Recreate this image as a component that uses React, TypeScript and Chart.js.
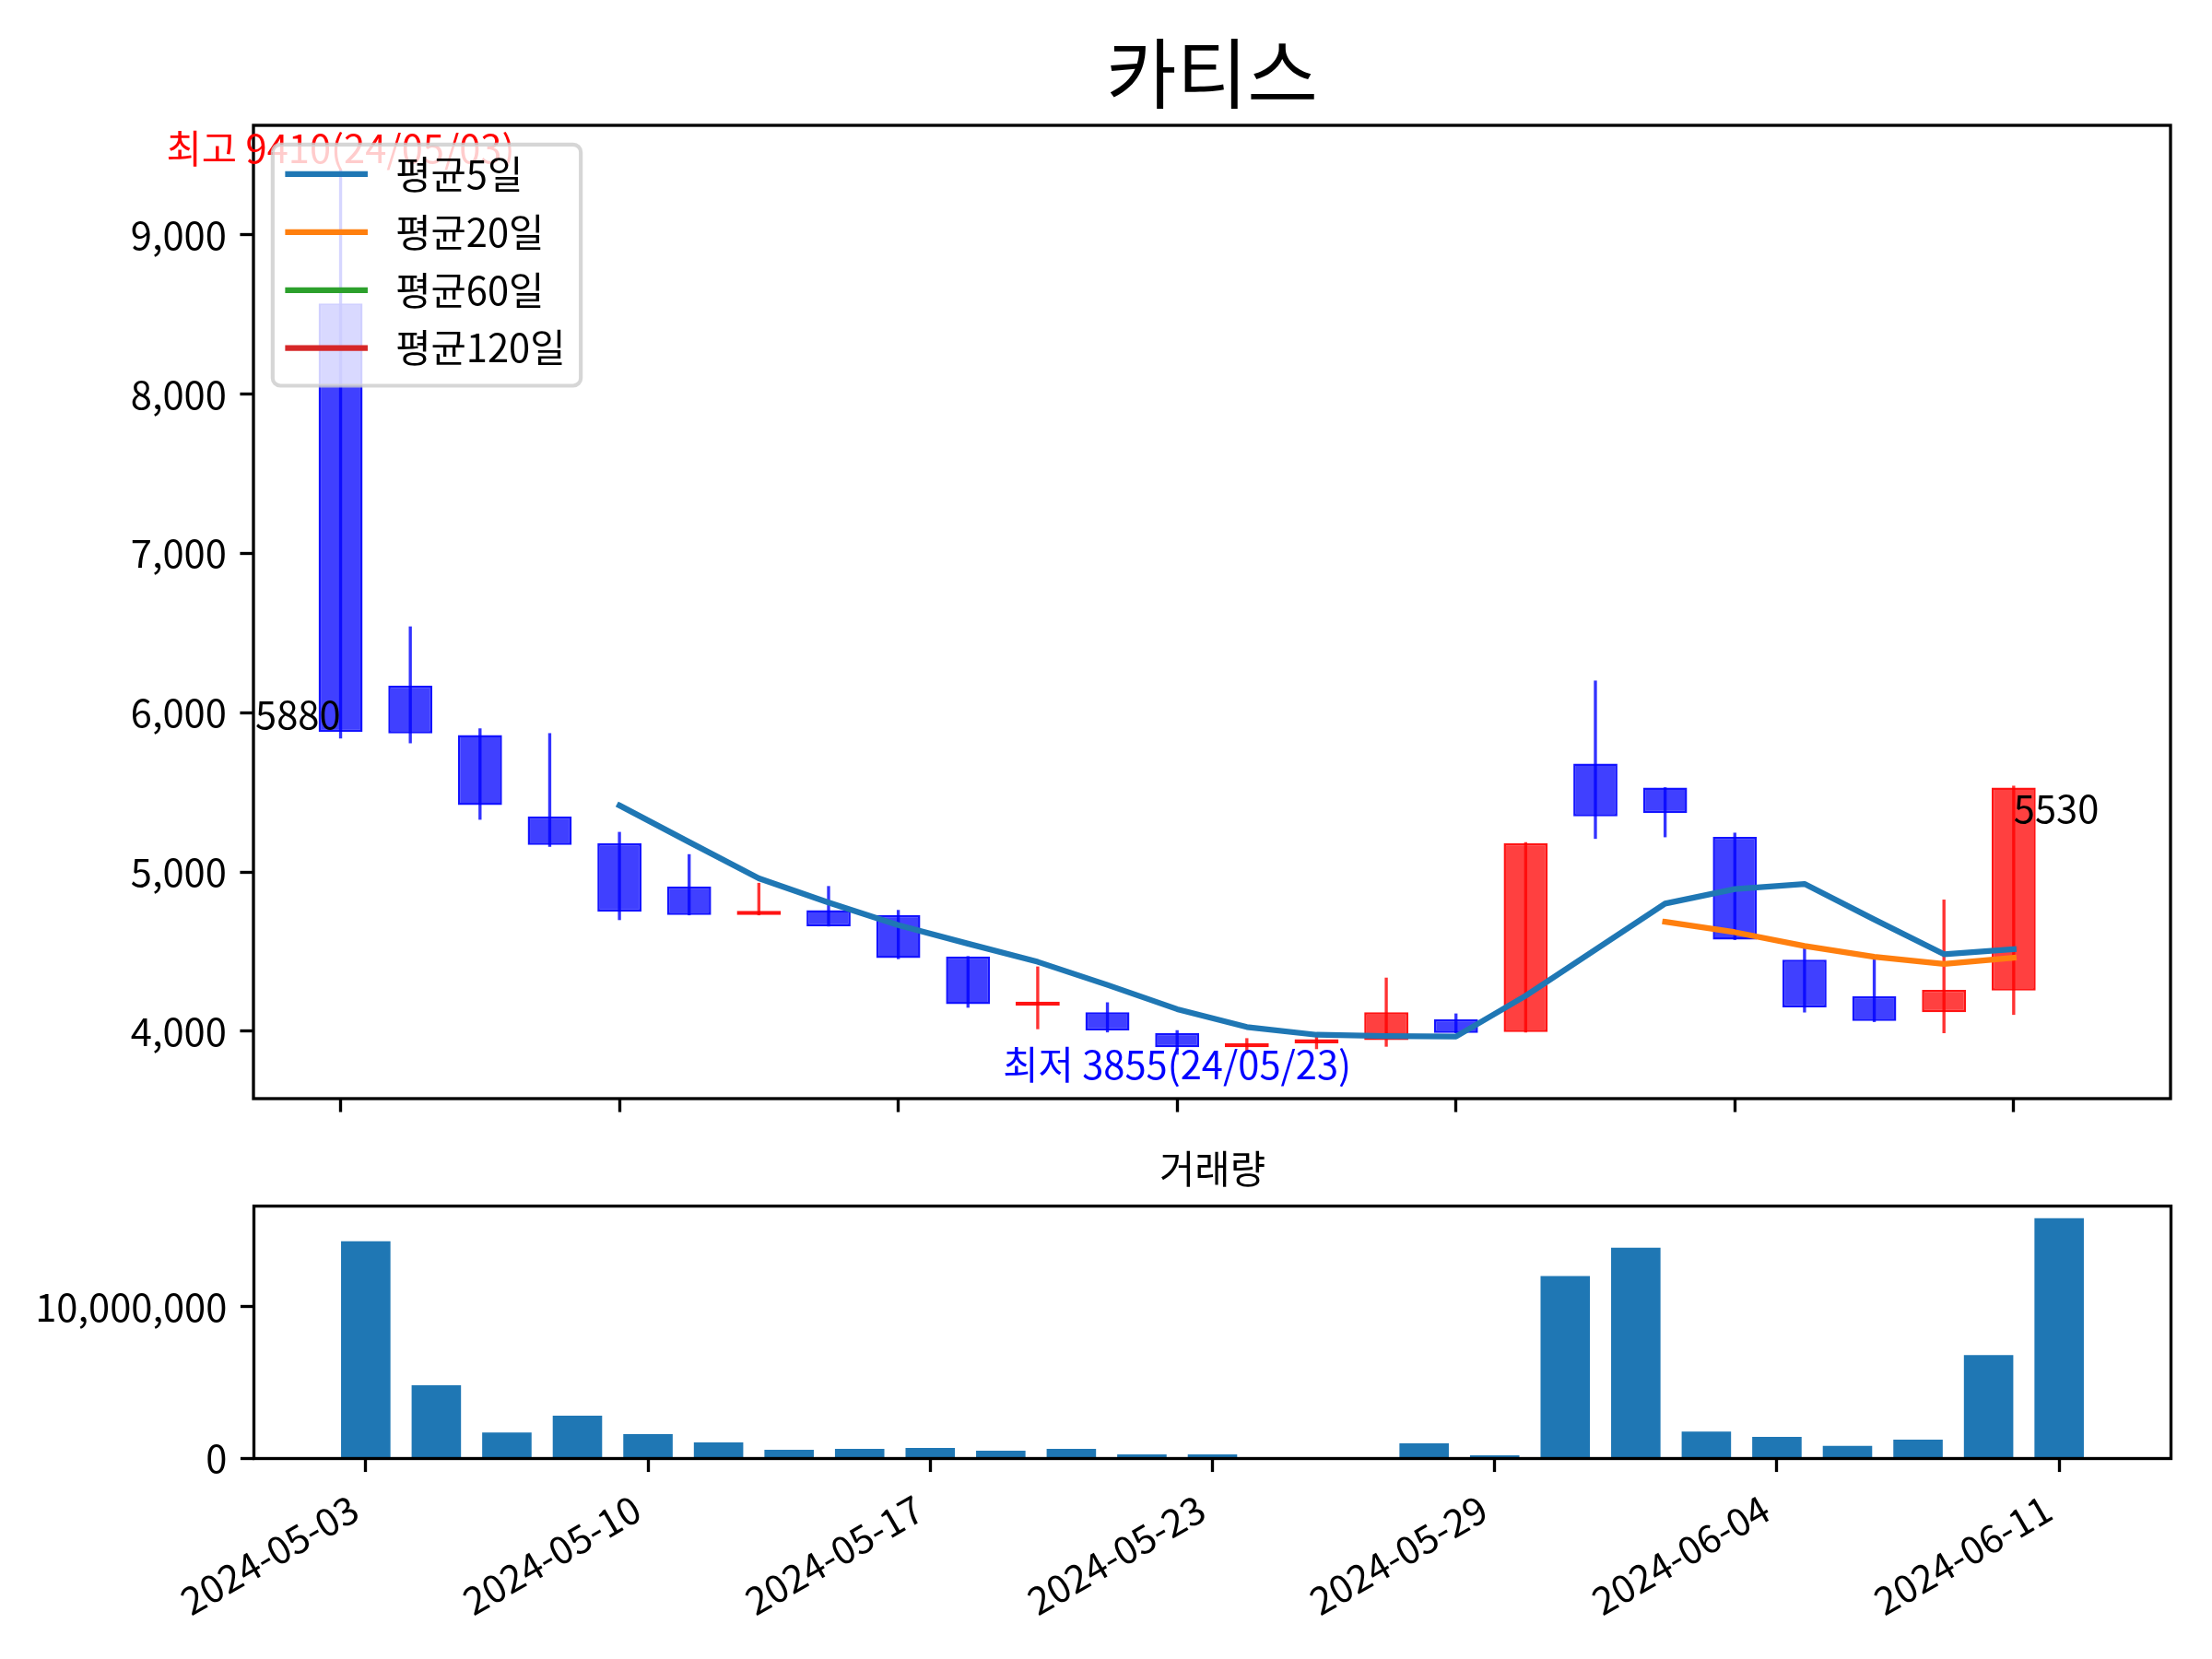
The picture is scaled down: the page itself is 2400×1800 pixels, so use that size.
import React, { useEffect, useRef } from 'react';
import { Chart, registerables } from 'chart.js';

Chart.register(...registerables);

const FONT_FAMILY = '"Noto Sans CJK KR", "Noto Sans", sans-serif';
const PX_PER_PT = 300 / 72;
const FS = 10 * PX_PER_PT;
const TITLE_FS = 20 * PX_PER_PT;
const LW_AXIS = 0.8 * PX_PER_PT;
const TICK_LEN = 3.5 * PX_PER_PT;
const TICK_PAD = 3.5 * PX_PER_PT;
const TITLE_PAD = 6 * PX_PER_PT;
const LINE_W = 1.5 * PX_PER_PT;

const TITLE = '카티스';
const VOLUME_TITLE = '거래량';

const dates = [
  '2024-05-03', '2024-05-07', '2024-05-08', '2024-05-09', '2024-05-10',
  '2024-05-13', '2024-05-14', '2024-05-16', '2024-05-17', '2024-05-20',
  '2024-05-21', '2024-05-22', '2024-05-23', '2024-05-24', '2024-05-27',
  '2024-05-28', '2024-05-29', '2024-05-30', '2024-05-31', '2024-06-03',
  '2024-06-04', '2024-06-05', '2024-06-07', '2024-06-10', '2024-06-11',
];

const opens = [8570, 6170, 5860, 5350, 5180, 4910, 4730, 4760, 4730, 4470, 4160, 4120, 3990, 3900, 3925, 3945, 4075, 3995, 5680, 5530, 5220, 4450, 4220, 4120, 4255];
const highs = [9410, 6540, 5900, 5870, 5250, 5110, 4930, 4910, 4760, 4470, 4405, 4180, 4005, 3955, 3965, 4335, 4110, 5185, 6200, 5530, 5245, 4530, 4460, 4825, 5540];
const lows = [5840, 5810, 5330, 5160, 4700, 4730, 4730, 4660, 4455, 4150, 4015, 3995, 3855, 3865, 3890, 3905, 3990, 3995, 5210, 5220, 4575, 4120, 4060, 3990, 4105];
const closes = [5880, 5870, 5420, 5170, 4750, 4730, 4730, 4660, 4460, 4170, 4160, 4005, 3900, 3900, 3925, 4120, 3990, 5180, 5350, 5370, 4575, 4150, 4065, 4260, 5530];

const ma5: (number | null)[] = [null, null, null, null, 5418, 5188, 4960, 4808, 4666, 4550, 4436, 4291, 4139, 4027, 3978, 3970, 3967, 4223, 4513, 4802, 4893, 4925, 4702, 4484, 4516];
const ma20: (number | null)[] = [null, null, null, null, null, null, null, null, null, null, null, null, null, null, null, null, null, null, null, 4687, 4622, 4536, 4468, 4423, 4462];
const ma60: (number | null)[] = [];
const ma120: (number | null)[] = [];

const maLabels = ['평균5일', '평균20일', '평균60일', '평균120일'];
const maColors = ['#1f77b4', '#ff7f0e', '#2ca02c', '#d62728'];

const volumes = [14310000, 4820000, 1720000, 2820000, 1610000, 1060000, 570000, 640000, 700000, 510000, 640000, 280000, 280000, 85000, 85000, 1000000, 210000, 12020000, 13890000, 1780000, 1420000, 830000, 1250000, 6820000, 15840000];

const priceTicks = [4000, 5000, 6000, 7000, 8000, 9000];
const volumeTicks = [0, 10000000];
const dateTickIdx = [0, 4, 8, 12, 16, 20, 24];

const W = 2400;
const MAIN_H = 1240;
const VOL_H = 560;

const fmt = (v: number) => Number(v).toLocaleString('en-US');
const shortDate = (d: string) => d.slice(2).replace(/-/g, '/');

const upFill = 'rgba(255,0,0,0.75)';
const upEdge = 'rgba(255,0,0,0.92)';
const downFill = 'rgba(0,0,255,0.75)';
const downEdge = 'rgba(0,0,255,0.92)';
const upWick = 'rgba(255,0,0,0.8)';
const downWick = 'rgba(0,0,255,0.8)';

const tickGrid = {
  display: true,
  drawOnChartArea: false,
  drawTicks: true,
  tickLength: TICK_LEN,
  tickWidth: LW_AXIS,
  tickColor: '#000',
  offset: false,
};

const mainPlugin = {
  id: 'mainDecor',
  afterDatasetsDraw(chart: any) {
    const { ctx, chartArea: ca, scales } = chart;
    const xs = scales.x;
    const ys = scales.y;
    ctx.save();
    ctx.strokeStyle = '#000';
    ctx.lineWidth = LW_AXIS;
    ctx.strokeRect(ca.left, ca.top, ca.right - ca.left, ca.bottom - ca.top);

    ctx.fillStyle = '#000';
    ctx.font = `${TITLE_FS}px ${FONT_FAMILY}`;
    ctx.textAlign = 'center';
    ctx.textBaseline = 'alphabetic';
    ctx.fillText(TITLE, (ca.left + ca.right) / 2, ca.top - TITLE_PAD);

    ctx.font = `${FS}px ${FONT_FAMILY}`;
    const hiVal = Math.max(...highs);
    const hiIdx = highs.indexOf(hiVal);
    const loVal = Math.min(...lows);
    const loIdx = lows.indexOf(loVal);
    ctx.textAlign = 'center';
    ctx.fillStyle = 'red';
    ctx.fillText(`최고 ${hiVal}(${shortDate(dates[hiIdx])})`, xs.getPixelForValue(hiIdx), ys.getPixelForValue(hiVal) - 7);
    ctx.fillStyle = 'blue';
    ctx.fillText(`최저 ${loVal}(${shortDate(dates[loIdx])})`, xs.getPixelForValue(loIdx), ys.getPixelForValue(loVal) + 27);
    ctx.fillStyle = '#000';
    ctx.textAlign = 'right';
    ctx.fillText(String(closes[0]), xs.getPixelForValue(0), ys.getPixelForValue(closes[0]) - 3);
    const last = closes.length - 1;
    ctx.textAlign = 'left';
    ctx.fillText(String(closes[last]), xs.getPixelForValue(last), ys.getPixelForValue(closes[last]) + 38);

    // legend
    const items = chart.data.datasets.filter((d: any) => d.type === 'line');
    ctx.font = `${FS}px ${FONT_FAMILY}`;
    let maxW = 0;
    items.forEach((d: any) => { maxW = Math.max(maxW, ctx.measureText(d.label).width); });
    const bx = ca.left + 0.5 * FS;
    const by = ca.top + 0.5 * FS;
    const hx0 = bx + 0.4 * FS;
    const hx1 = hx0 + 2 * FS;
    const tx = hx1 + 0.8 * FS;
    const bw = tx + maxW + 0.4 * FS - bx;
    const rowPitch = 1.51 * FS;
    const bh = 2 * 0.4 * FS + (items.length - 1) * rowPitch + 0.95 * FS;
    const r = 0.2 * FS;
    ctx.beginPath();
    ctx.moveTo(bx + r, by);
    ctx.lineTo(bx + bw - r, by);
    ctx.arcTo(bx + bw, by, bx + bw, by + r, r);
    ctx.lineTo(bx + bw, by + bh - r);
    ctx.arcTo(bx + bw, by + bh, bx + bw - r, by + bh, r);
    ctx.lineTo(bx + r, by + bh);
    ctx.arcTo(bx, by + bh, bx, by + bh - r, r);
    ctx.lineTo(bx, by + r);
    ctx.arcTo(bx, by, bx + r, by, r);
    ctx.closePath();
    ctx.fillStyle = 'rgba(255,255,255,0.8)';
    ctx.fill();
    ctx.strokeStyle = 'rgba(204,204,204,0.8)';
    ctx.lineWidth = 1.0 * PX_PER_PT;
    ctx.stroke();
    items.forEach((d: any, k: number) => {
      const cy = by + 0.77 * FS + k * rowPitch;
      ctx.beginPath();
      ctx.moveTo(hx0, cy);
      ctx.lineTo(hx1, cy);
      ctx.strokeStyle = d.borderColor;
      ctx.lineWidth = LINE_W;
      ctx.lineCap = 'square';
      ctx.stroke();
      ctx.fillStyle = '#000';
      ctx.textAlign = 'left';
      ctx.textBaseline = 'middle';
      ctx.fillText(d.label, tx, cy);
    });
    ctx.restore();
  },
};

const volPlugin = {
  id: 'volDecor',
  afterDatasetsDraw(chart: any) {
    const { ctx, chartArea: ca } = chart;
    ctx.save();
    ctx.strokeStyle = '#000';
    ctx.lineWidth = LW_AXIS;
    ctx.strokeRect(ca.left, ca.top, ca.right - ca.left, ca.bottom - ca.top);
    ctx.fillStyle = '#000';
    ctx.font = `${FS}px ${FONT_FAMILY}`;
    ctx.textAlign = 'center';
    ctx.textBaseline = 'alphabetic';
    ctx.fillText(VOLUME_TITLE, (ca.left + ca.right) / 2, ca.top - TITLE_PAD);
    ctx.restore();
  },
};

export default function App() {
  const mainRef = useRef<HTMLCanvasElement | null>(null);
  const volRef = useRef<HTMLCanvasElement | null>(null);

  useEffect(() => {
    document.body.style.margin = '0';
    const mainCanvas = mainRef.current;
    const volCanvas = volRef.current;
    if (!mainCanvas || !volCanvas) return;

    const isUp = (i: number) => closes[i] >= opens[i];
    const maSeries = [ma5, ma20, ma60, ma120];

    const lineSets = maSeries.map((arr, k) => ({
      type: 'line' as const,
      label: maLabels[k],
      data: arr.map((v, i) => ({ x: i, y: v })),
      borderColor: maColors[k],
      backgroundColor: maColors[k],
      borderWidth: LINE_W,
      borderCapStyle: 'square' as const,
      borderJoinStyle: 'round' as const,
      pointRadius: 0,
      tension: 0,
      spanGaps: false,
      order: 0,
    }));

    const mainChart = new Chart(mainCanvas, {
      type: 'bar',
      data: {
        datasets: [
          ...lineSets,
          {
            type: 'bar' as const,
            label: 'body',
            data: opens.map((o, i) => ({ x: i, y: [o, closes[i]] })) as any,
            backgroundColor: opens.map((_, i) => (isUp(i) ? upFill : downFill)),
            borderColor: opens.map((_, i) => (isUp(i) ? upEdge : downEdge)),
            borderWidth: 2.5,
            borderSkipped: false,
            barPercentage: 0.632,
            categoryPercentage: 1,
            grouped: false,
            minBarLength: 4.5,
            order: 1,
          },
          {
            type: 'bar' as const,
            label: 'wick',
            data: lows.map((l, i) => ({ x: i, y: [l, highs[i]] })) as any,
            backgroundColor: lows.map((_, i) => (isUp(i) ? upWick : downWick)),
            borderWidth: 0,
            barThickness: 2.7,
            grouped: false,
            order: 2,
          },
        ] as any,
      },
      options: {
        animation: false,
        responsive: false,
        events: [],
        layout: { padding: { top: 136, right: 45, left: 0, bottom: 0 } },
        plugins: {
          legend: { display: false },
          tooltip: { enabled: false },
          title: { display: false },
        },
        scales: {
          x: {
            type: 'linear',
            min: -1.25,
            max: 26.25,
            offset: false,
            grid: tickGrid,
            border: { display: false },
            ticks: { display: false },
            afterBuildTicks: (s: any) => { s.ticks = dateTickIdx.map((v) => ({ value: v })); },
            afterFit: (s: any) => { s.height = MAIN_H - 1192; },
          },
          y: {
            type: 'linear',
            min: 3577.25,
            max: 9687.75,
            grid: tickGrid,
            border: { display: false },
            ticks: {
              color: '#000',
              font: { family: FONT_FAMILY, size: FS },
              padding: TICK_PAD,
              callback: (v: any) => fmt(v),
            },
            afterBuildTicks: (s: any) => { s.ticks = priceTicks.map((v) => ({ value: v })); },
            afterFit: (s: any) => { s.width = 275; },
          },
        },
      } as any,
      plugins: [mainPlugin],
    });

    const volMax = Math.max(...volumes) * 1.05;
    const volChart = new Chart(volCanvas, {
      type: 'bar',
      data: {
        datasets: [
          {
            label: VOLUME_TITLE,
            data: volumes.map((v, i) => ({ x: i, y: v })) as any,
            backgroundColor: '#1f77b4',
            borderWidth: 0,
            barPercentage: 0.7,
            categoryPercentage: 1,
          },
        ],
      },
      options: {
        animation: false,
        responsive: false,
        events: [],
        layout: { padding: { top: 1308.6 - MAIN_H, right: 44.5, left: 0, bottom: 0 } },
        plugins: {
          legend: { display: false },
          tooltip: { enabled: false },
          title: { display: false },
        },
        scales: {
          x: {
            type: 'linear',
            min: -1.585,
            max: 25.585,
            offset: false,
            grid: tickGrid,
            border: { display: false },
            ticks: {
              color: '#000',
              font: { family: FONT_FAMILY, size: FS },
              padding: TICK_PAD,
              minRotation: 30,
              maxRotation: 30,
              autoSkip: false,
              labelOffset: -12,
              callback: (v: any) => dates[Number(v)] ?? '',
            },
            afterBuildTicks: (s: any) => { s.ticks = dateTickIdx.map((v) => ({ value: v })); },
            afterFit: (s: any) => { s.height = MAIN_H + VOL_H - 1582.5; },
          },
          y: {
            type: 'linear',
            min: 0,
            max: volMax,
            grid: tickGrid,
            border: { display: false },
            ticks: {
              color: '#000',
              font: { family: FONT_FAMILY, size: FS },
              padding: TICK_PAD,
              callback: (v: any) => fmt(v),
            },
            afterBuildTicks: (s: any) => { s.ticks = volumeTicks.map((v) => ({ value: v })); },
            afterFit: (s: any) => { s.width = 275.5; },
          },
        },
      } as any,
      plugins: [volPlugin],
    });

    return () => {
      mainChart.destroy();
      volChart.destroy();
    };
  }, []);

  return (
    <div style={{ position: 'relative', width: W, height: MAIN_H + VOL_H, background: '#fff' }}>
      <canvas ref={mainRef} width={W} height={MAIN_H} style={{ position: 'absolute', left: 0, top: 0, display: 'block' }} />
      <canvas ref={volRef} width={W} height={VOL_H} style={{ position: 'absolute', left: 0, top: MAIN_H, display: 'block' }} />
    </div>
  );
}
